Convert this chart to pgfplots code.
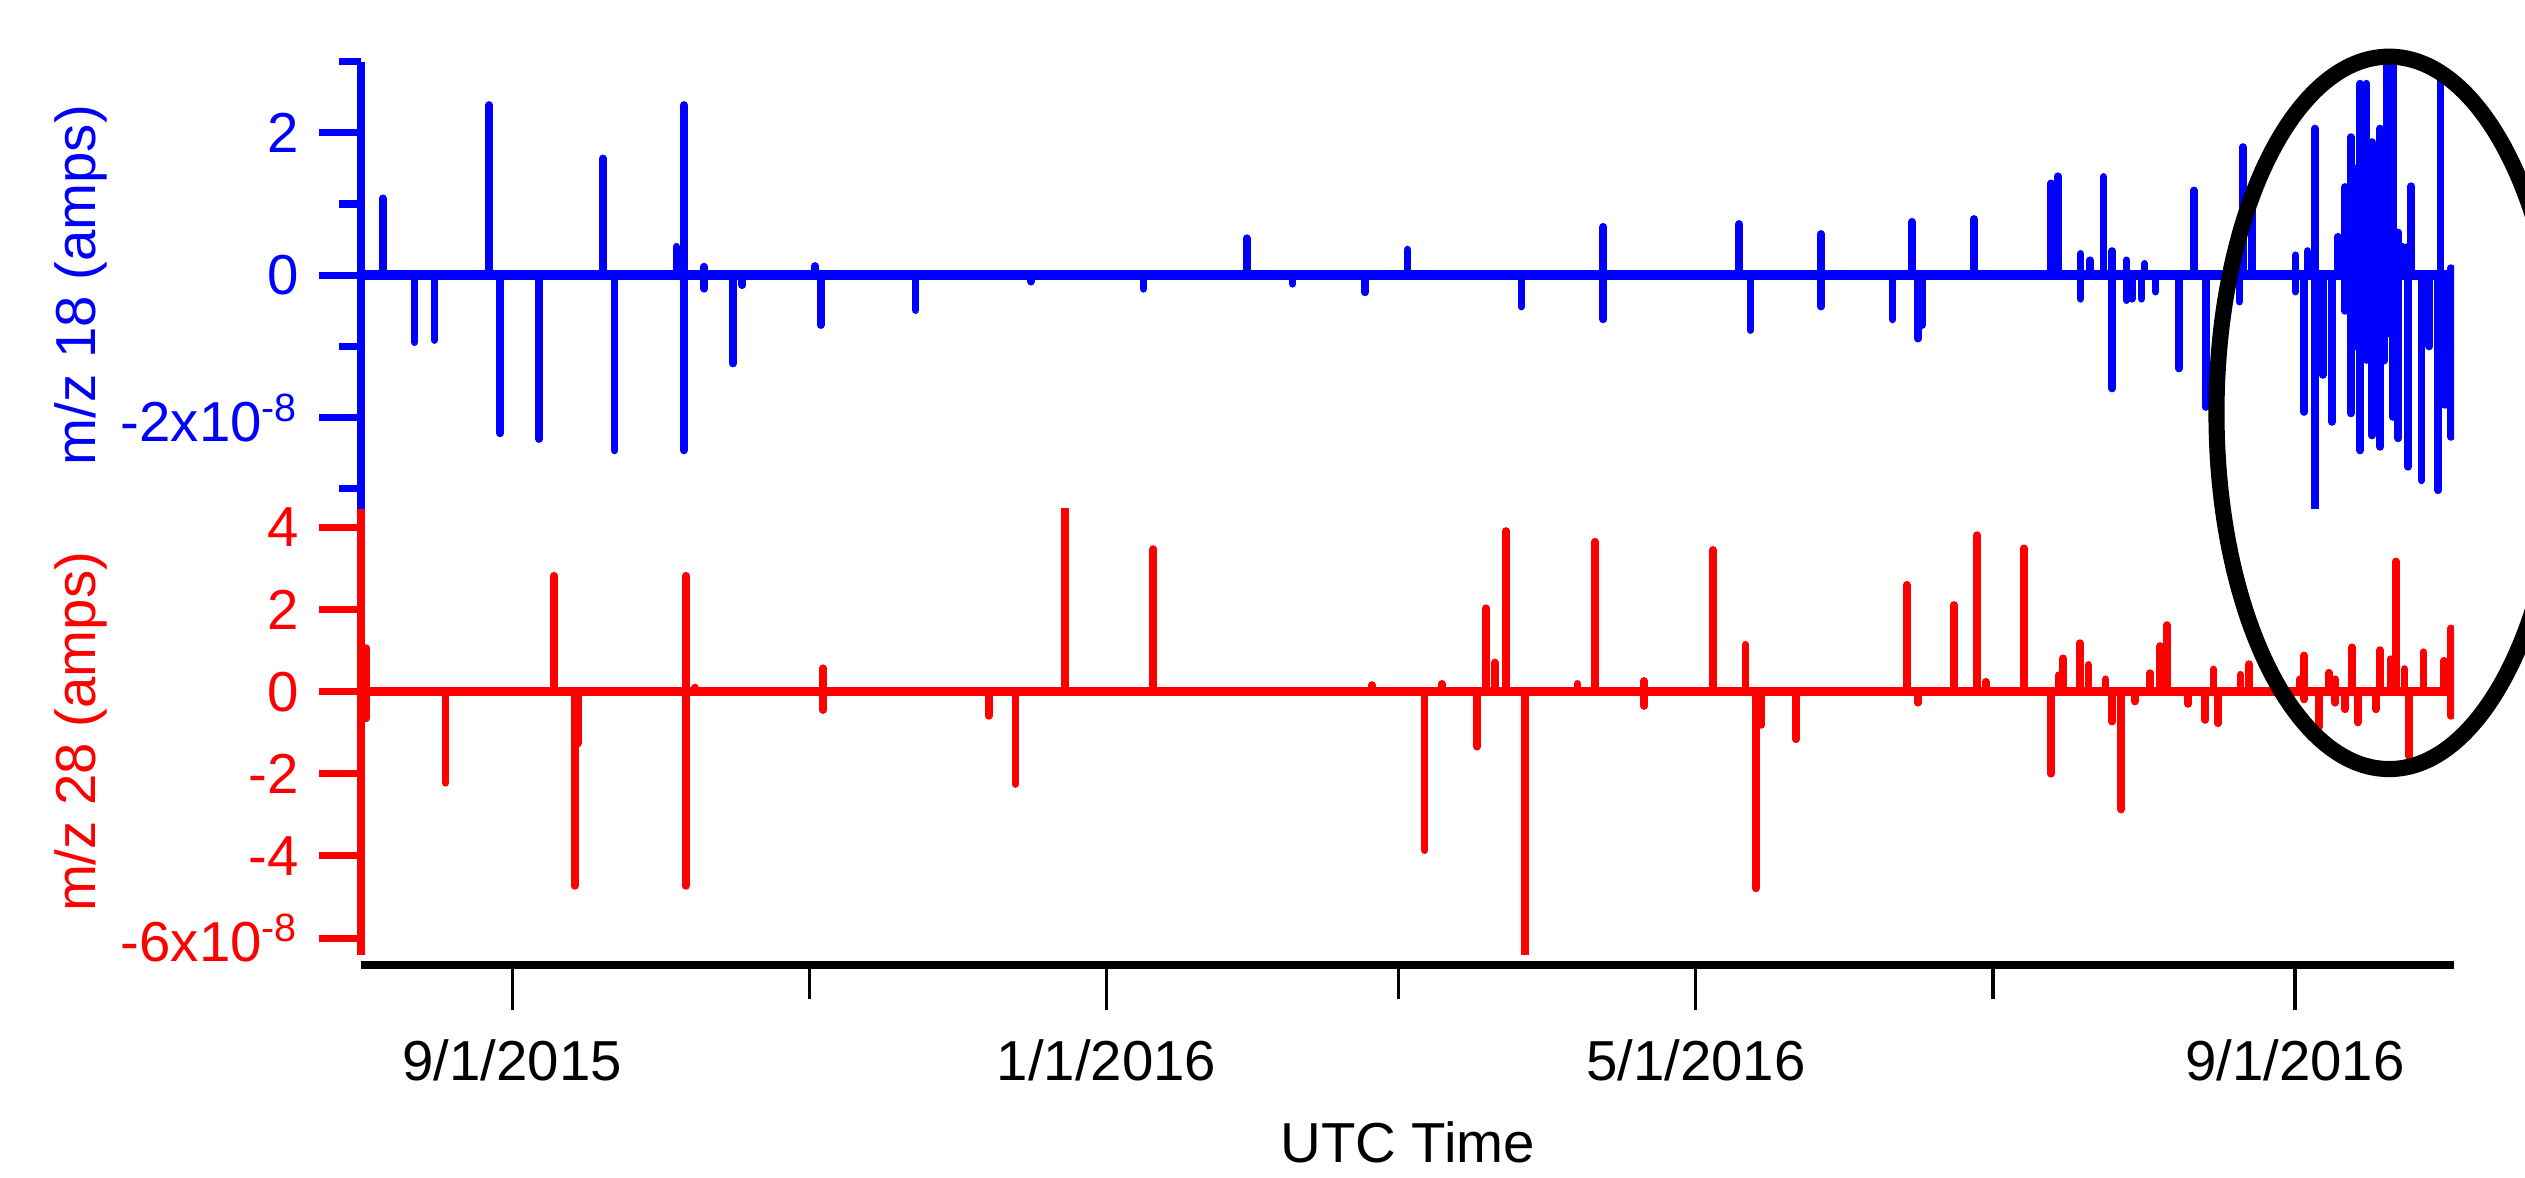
\documentclass[border=0pt]{standalone}
\usepackage{pgfplots}
\pgfplotsset{compat=1.18}
\usepackage{fontspec}
\setmainfont{Liberation Sans}
\newcommand{\ff}{\fontsize{17.5}{21}\selectfont}
\begin{document}
\begin{tikzpicture}
\path[use as bounding box] (0,0) rectangle (784pt,365.5pt);
\pgfplotsset{
  panel/.style={
    scale only axis, width=649.8pt, anchor=south west,
    xmin=-31, xmax=398.7,
    axis x line=none, axis y line=left,
    xtick=\empty,
    tick align=outside,
    major tick length=13pt, minor tick length=6.8pt,
    tick label style={font=\ff},
    yticklabel style={xshift=-3pt},
    label style={font=\ff},
    ylabel style={at={(axis description cs:-0.1342,0.5)}, anchor=center},
  },
}
% ---------- m/z 18 (blue) ----------
\begin{axis}[panel,
  at={(112.2pt,207.5pt)}, height=138.875pt,
  ymin=-3.28, ymax=3.0,
  axis line style={-, line width=2.5pt, blue},
  ytick={-2,0,2}, yticklabels={{-2x10\textsuperscript{-8}},0,2},
  minor ytick={-3,-1,1,3},
  major tick style={blue, line width=2.2pt},
  minor tick style={blue, line width=2.2pt},
  yticklabel style={blue},
  ylabel={m/z 18 (amps)}, ylabel style={blue},
]
\addplot[blue, line width=3pt] coordinates {(-31,0) (398.7,0)};
\addplot[blue, line width=2.4pt, line join=round, line cap=round] coordinates {
(-31,0)
(-26.6,0) (-26.6,1.08) (-26.6,0)
(-20.1,0) (-20.1,-0.94) (-20.1,0)
(-16.0,0) (-16.0,-0.91) (-16.0,0)
(-4.8,0) (-4.8,2.39) (-4.8,0)
(-2.5,0) (-2.5,-2.22) (-2.5,0)
(5.5,0) (5.5,-2.30) (5.5,0)
(18.6,0) (18.6,1.64) (18.6,0)
(21.0,0) (21.0,-2.46) (21.0,0)
(33.7,0) (33.7,0.40) (33.7,0)
(35.2,0) (35.2,2.39) (35.2,-2.46) (35.2,0)
(39.4,0) (39.4,0.12) (39.4,-0.19) (39.4,0)
(45.3,0) (45.3,-1.24) (45.3,0)
(47.2,0) (47.2,-0.14) (47.2,0)
(62.1,0) (62.1,0.13) (62.1,0)
(63.3,0) (63.3,-0.70) (63.3,0)
(82.8,0) (82.8,-0.49) (82.8,0)
(106.5,0) (106.5,-0.09) (106.5,0)
(129.6,0) (129.6,-0.19) (129.6,0)
(150.8,0) (150.8,0.52) (150.8,0)
(160.2,0) (160.2,-0.12) (160.2,0)
(175.1,0) (175.1,-0.24) (175.1,0)
(183.8,0) (183.8,0.36) (183.8,0)
(207.2,0) (207.2,-0.44) (207.2,0)
(224.0,0) (224.0,0.68) (224.0,-0.62) (224.0,0)
(251.9,0) (251.9,0.72) (251.9,0)
(254.2,0) (254.2,-0.77) (254.2,0)
(268.7,0) (268.7,0.58) (268.7,-0.44) (268.7,0)
(283.4,0) (283.4,-0.62) (283.4,0)
(287.4,0) (287.4,0.75) (287.4,0)
(288.6,0) (288.6,-0.89) (288.6,0)
(289.5,0) (289.5,-0.70) (289.5,0)
(300.1,0) (300.1,0.79) (300.1,0)
(315.9,0) (315.9,1.29) (315.9,0)
(317.3,0) (317.3,1.39) (317.3,0)
(322.0,0) (322.0,0.30) (322.0,-0.33) (322.0,0)
(323.9,0) (323.9,0.21) (323.9,0)
(326.7,0) (326.7,1.38) (326.7,0)
(328.5,0) (328.5,0.34) (328.5,-1.59) (328.5,0)
(331.4,0) (331.4,0.21) (331.4,-0.35) (331.4,0)
(332.6,0) (332.6,-0.33) (332.6,0)
(334.5,0) (334.5,-0.33) (334.5,0)
(335.1,0) (335.1,0.16) (335.1,0)
(337.4,0) (337.4,-0.23) (337.4,0)
(342.2,0) (342.2,-1.31) (342.2,0)
(345.3,0) (345.3,1.19) (345.3,0)
(347.7,0) (347.7,-1.85) (347.7,0)
(354.6,0) (354.6,-0.37) (354.6,0)
(355.3,0) (355.3,1.80) (355.3,0)
(357.2,0) (357.2,1.15) (357.2,0)
(366.1,0) (366.1,0.28) (366.1,-0.23) (366.1,0)
(367.9,0) (367.9,-1.92) (367.9,0)
(368.6,0) (368.6,0.34) (368.6,0)
(370.1,0) (370.1,2.06) (370.1,-3.30) (370.1,0)
(371.7,0) (371.7,-1.40) (371.7,0)
(373.6,0) (373.6,-2.06) (373.6,0)
(374.8,0) (374.8,0.54) (374.8,0)
(376.3,0) (376.3,1.24) (376.3,-0.5) (376.3,0)
(377.5,0) (377.5,1.94) (377.5,-1.94) (377.5,0)
(378.4,0) (378.4,1.5) (378.4,-1.0) (378.4,0)
(379.4,0) (379.4,2.69) (379.4,-2.46) (379.4,0)
(380.7,0) (380.7,2.69) (380.7,-1.19) (380.7,0)
(381.8,0) (381.8,1.87) (381.8,-2.25) (381.8,0)
(382.6,0) (382.6,1.6) (382.6,-1.5) (382.6,0)
(383.5,0) (383.5,2.06) (383.5,-2.41) (383.5,0)
(384.3,0) (384.3,1.0) (384.3,-1.2) (384.3,0)
(384.9,0) (384.9,2.97) (384.9,-0.82) (384.9,0)
(386.1,0) (386.1,2.95) (386.1,-1.99) (386.1,0)
(387.2,0) (387.2,0.6) (387.2,-2.29) (387.2,0)
(388.1,0) (388.1,0.40) (388.1,0)
(389.2,0) (389.2,0.4) (389.2,-2.69) (389.2,0)
(389.9,0) (389.9,1.25) (389.9,0)
(392.0,0) (392.0,-2.88) (392.0,0)
(393.6,0) (393.6,-1.00) (393.6,0)
(395.4,0) (395.4,-3.02) (395.4,0)
(395.9,0) (395.9,2.76) (395.9,0)
(396.8,0) (396.8,-1.82) (396.8,0)
(398.0,0) (398.0,0.1) (398.0,-2.27) (398.0,0)
(398.7,0)
};
\end{axis}
% ---------- m/z 28 (red) ----------
\begin{axis}[panel,
  at={(112.2pt,69pt)}, height=138.5pt,
  ymin=-6.41, ymax=4.45,
  axis line style={-, line width=2.5pt, red},
  ytick={-6,-4,-2,0,2,4}, yticklabels={{-6x10\textsuperscript{-8}},-4,-2,0,2,4},
  major tick style={red, line width=2.2pt},
  yticklabel style={red},
  ylabel={m/z 28 (amps)}, ylabel style={red},
]
\addplot[red, line width=3pt] coordinates {(-31,0) (398.7,0)};
\addplot[red, line width=2.4pt, line join=round, line cap=round] coordinates {
(-31,0)
(-30.0,0) (-30.0,1.06) (-30.0,-0.65) (-30.0,0)
(-13.7,0) (-13.7,-2.22) (-13.7,0)
(8.6,0) (8.6,2.82) (8.6,0)
(12.8,0) (12.8,-4.73) (12.8,0)
(13.5,0) (13.5,-1.26) (13.5,0)
(35.6,0) (35.6,2.82) (35.6,-4.73) (35.6,0)
(37.5,0) (37.5,0.10) (37.5,0)
(63.8,0) (63.8,0.57) (63.8,-0.45) (63.8,0)
(97.8,0) (97.8,-0.59) (97.8,0)
(103.3,0) (103.3,-2.25) (103.3,0)
(113.4,0) (113.4,4.45) (113.4,0)
(131.6,0) (131.6,3.47) (131.6,0)
(176.5,0) (176.5,0.16) (176.5,0)
(187.3,0) (187.3,-3.86) (187.3,0)
(190.9,0) (190.9,0.19) (190.9,0)
(198.1,0) (198.1,-1.34) (198.1,0)
(199.9,0) (199.9,2.03) (199.9,0)
(201.7,0) (201.7,0.71) (201.7,0)
(204.0,0) (204.0,3.91) (204.0,0)
(207.9,0) (207.9,-6.41) (207.9,0)
(218.7,0) (218.7,0.19) (218.7,0)
(222.3,0) (222.3,3.65) (222.3,0)
(232.4,0) (232.4,0.26) (232.4,-0.35) (232.4,0)
(246.5,0) (246.5,3.45) (246.5,0)
(253.2,0) (253.2,1.14) (253.2,0)
(255.3,0) (255.3,-4.79) (255.3,0)
(256.5,0) (256.5,-0.81) (256.5,0)
(263.6,0) (263.6,-1.16) (263.6,0)
(286.3,0) (286.3,2.60) (286.3,0)
(288.6,0) (288.6,-0.27) (288.6,0)
(296.0,0) (296.0,2.11) (296.0,0)
(300.7,0) (300.7,3.81) (300.7,0)
(302.5,0) (302.5,0.24) (302.5,0)
(310.4,0) (310.4,3.49) (310.4,0)
(315.9,0) (315.9,-2.00) (315.9,0)
(317.5,0) (317.5,0.40) (317.5,0)
(318.4,0) (318.4,0.81) (318.4,0)
(321.8,0) (321.8,1.18) (321.8,0)
(323.6,0) (323.6,0.65) (323.6,0)
(327.1,0) (327.1,0.30) (327.1,0)
(328.5,0) (328.5,-0.73) (328.5,0)
(330.3,0) (330.3,-2.87) (330.3,0)
(333.1,0) (333.1,-0.24) (333.1,0)
(336.3,0) (336.3,0.45) (336.3,0)
(338.3,0) (338.3,1.11) (338.3,0)
(339.7,0) (339.7,1.62) (339.7,0)
(344.1,0) (344.1,-0.30) (344.1,0)
(347.6,0) (347.6,-0.69) (347.6,0)
(349.3,0) (349.3,0.54) (349.3,0)
(350.2,0) (350.2,-0.77) (350.2,0)
(354.8,0) (354.8,0.41) (354.8,0)
(356.6,0) (356.6,0.67) (356.6,0)
(367.0,0) (367.0,0.30) (367.0,0)
(367.9,0) (367.9,0.88) (367.9,-0.19) (367.9,0)
(371.0,0) (371.0,-0.85) (371.0,0)
(373.0,0) (373.0,0.46) (373.0,0)
(374.3,0) (374.3,0.30) (374.3,-0.27) (374.3,0)
(376.3,0) (376.3,-0.43) (376.3,0)
(377.7,0) (377.7,1.08) (377.7,0)
(378.9,0) (378.9,-0.75) (378.9,0)
(382.6,0) (382.6,-0.43) (382.6,0)
(383.5,0) (383.5,1.01) (383.5,0)
(385.6,0) (385.6,0.79) (385.6,0)
(386.7,0) (386.7,3.17) (386.7,0)
(388.5,0) (388.5,0.55) (388.5,0)
(389.4,0) (389.4,-1.57) (389.4,0)
(392.4,0) (392.4,0.96) (392.4,0)
(396.6,0) (396.6,0.75) (396.6,0)
(398.0,0) (398.0,1.54) (398.0,-0.59) (398.0,0)
(398.7,0)
};
\end{axis}
% ---------- time axis ----------
\begin{axis}[
  scale only axis, width=649.8pt, height=20pt, anchor=south west,
  at={(112.2pt,65.75pt)},
  xmin=-31, xmax=398.7, ymin=0, ymax=1,
  axis x line=bottom, axis y line=none,
  axis line style={-, line width=2.5pt, black},
  tick align=outside,
  xtick={0,122,243,366},
  xticklabels={9/1/2015,1/1/2016,5/1/2016,9/1/2016},
  minor xtick={61,182,304},
  major tick length=13.75pt, minor tick length=10.5pt,
  major tick style={black, line width=1pt},
  minor tick style={black, line width=1pt},
  tick label style={font=\ff},
  xticklabel style={yshift=-5.65pt},
  xlabel={UTC Time},
  xlabel style={font=\ff, at={(axis description cs:0.5,0)}, anchor=base, yshift=-61.25pt},
]
\addplot[draw=none] coordinates {(-31,0) (398.7,0)};
\end{axis}
\begin{scope}
\clip (0,0) rectangle (784pt,365.5pt);
\draw[line width=5pt] (741.8pt,237.3pt) ellipse [x radius=53.6pt, y radius=110.6pt];
\end{scope}
\end{tikzpicture}
\end{document}
